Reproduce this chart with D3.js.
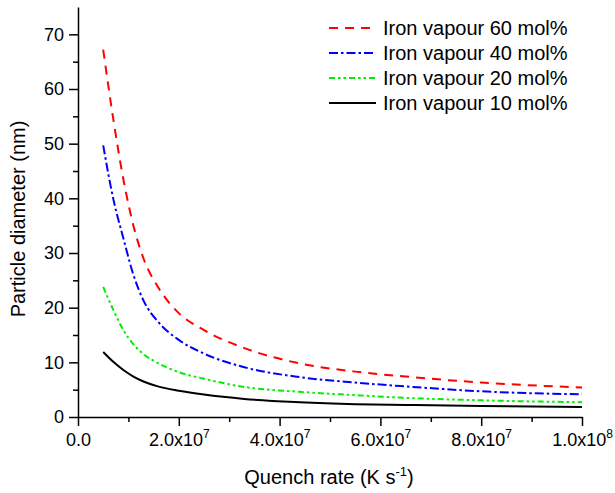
<!DOCTYPE html>
<html>
<head>
<meta charset="utf-8">
<script src="https://cdn.jsdelivr.net/npm/d3@7"></script>
<style>
  body { margin: 0; background: #fff; }
  text { font-family: "Liberation Sans", Arial, sans-serif; fill: #000; }
</style>
</head>
<body>
<script>
// quench rate in units of 1e7 K/s
const rates = [0.5, 0.7, 0.9, 1.1, 1.3, 1.6, 2.0, 2.5, 3.3, 4.4, 5.5, 6.5, 8.0, 10.0];
const iron60 = [67.2, 54.5, 43.5, 35.0, 29.0, 23.6, 19.0, 15.9, 12.6, 9.8, 8.3, 7.4, 6.3, 5.4];
const iron40 = [49.7, 39.9, 32.7, 26.0, 21.3, 17.3, 14.1, 11.6, 9.1, 7.3, 6.3, 5.6, 4.7, 4.15];
const iron20 = [23.8, 19.6, 15.9, 13.3, 11.5, 9.8, 8.2, 7.0, 5.5, 4.6, 4.0, 3.5, 3.05, 2.7];
const iron10 = [11.9, 10.1, 8.6, 7.4, 6.5, 5.55, 4.8, 4.1, 3.3, 2.7, 2.35, 2.2, 2.0, 1.85];
const seriesNames = ["Iron vapour 60 mol%", "Iron vapour 40 mol%", "Iron vapour 20 mol%", "Iron vapour 10 mol%"];
const xMajor = [0, 2, 4, 6, 8, 10];
const xLabels = [["0.0", ""], ["2.0x10", "7"], ["4.0x10", "7"], ["6.0x10", "7"], ["8.0x10", "7"], ["1.0x10", "8"]];
const yMajor = [0, 10, 20, 30, 40, 50, 60, 70];

const W = 615, H = 493;
const mLeft = 78, mRight = 582, mTop = 7, mBottom = 417;

const svg = d3.select('body').append('svg')
  .attr('width', W).attr('height', H);

const x = d3.scaleLinear().domain([0, 10]).range([mLeft, mRight]);
const y = d3.scaleLinear().domain([0, 75]).range([mBottom, mTop]);

const styles = [
  {color: '#ff0000', dash: '9,7'},
  {color: '#0000ff', dash: '9,3,2.5,3'},
  {color: '#00ee00', dash: '6,3,2.5,3,2.5,3'},
  {color: '#000000', dash: null}
];
const allSeries = [iron60, iron40, iron20, iron10];

const line = d3.line()
  .x((d, i) => x(rates[i]))
  .y(d => y(d))
  .curve(d3.curveMonotoneX);

allSeries.forEach((vals, k) => {
  svg.append('path')
    .datum(vals)
    .attr('d', line)
    .attr('fill', 'none')
    .attr('stroke', styles[k].color)
    .attr('stroke-width', 2)
    .attr('stroke-dasharray', styles[k].dash);
});

// x axis: minor then major ticks
svg.append('g')
  .attr('transform', `translate(0, ${mBottom})`)
  .call(d3.axisBottom(x).tickValues(d3.range(1, 10, 2)).tickSize(5).tickFormat(''))
  .call(g => g.select('.domain').remove())
  .selectAll('line').attr('stroke-width', 1.5);

const xAxisG = svg.append('g')
  .attr('transform', `translate(0, ${mBottom})`)
  .call(d3.axisBottom(x).tickValues(xMajor).tickSize(9).tickSizeOuter(0).tickFormat(''));
xAxisG.select('.domain').attr('stroke-width', 1.5);
xAxisG.selectAll('line').attr('stroke-width', 1.5);
xAxisG.selectAll('.tick').each(function(d, i) {
  const t = d3.select(this).append('text')
    .attr('y', 29)
    .attr('text-anchor', 'middle')
    .style('font-size', '18px');
  t.append('tspan').text(xLabels[i][0]);
  if (xLabels[i][1]) {
    t.append('tspan').attr('dy', -8).style('font-size', '12px').text(xLabels[i][1]);
  }
});

// y axis
svg.append('g')
  .attr('transform', `translate(${mLeft}, 0)`)
  .call(d3.axisLeft(y).tickValues(d3.range(5, 75, 10)).tickSize(5).tickFormat(''))
  .call(g => g.select('.domain').remove())
  .selectAll('line').attr('stroke-width', 1.5);

const yAxisG = svg.append('g')
  .attr('transform', `translate(${mLeft}, 0)`)
  .call(d3.axisLeft(y).tickValues(yMajor).tickSize(9).tickSizeOuter(0).tickPadding(5));
yAxisG.select('.domain').attr('stroke-width', 1.5);
yAxisG.selectAll('line').attr('stroke-width', 1.5);
yAxisG.selectAll('text').style('font-size', '18px').style('font-family', '"Liberation Sans", Arial, sans-serif');

// axis titles
const xt = svg.append('text')
  .attr('x', 329)
  .attr('y', 484)
  .attr('text-anchor', 'middle')
  .style('font-size', '20px');
xt.append('tspan').text('Quench rate (K s');
xt.append('tspan').attr('dy', -8).style('font-size', '13px').text('-1');
xt.append('tspan').attr('dy', 8).text(')');

svg.append('text')
  .attr('transform', 'translate(25, 219) rotate(-90)')
  .attr('text-anchor', 'middle')
  .style('font-size', '20px')
  .text('Particle diameter (nm)');

// legend
const legend = svg.append('g').attr('transform', 'translate(329, 28)');
seriesNames.forEach((name, k) => {
  const row = legend.append('g').attr('transform', `translate(0, ${k * 25})`);
  row.append('line')
    .attr('x1', 0).attr('x2', 47)
    .attr('y1', 0).attr('y2', 0)
    .attr('stroke', styles[k].color)
    .attr('stroke-width', 2)
    .attr('stroke-dasharray', styles[k].dash);
  row.append('text')
    .attr('x', 54).attr('y', 7)
    .style('font-size', '20px')
    .text(name);
});
</script>
</body>
</html>
